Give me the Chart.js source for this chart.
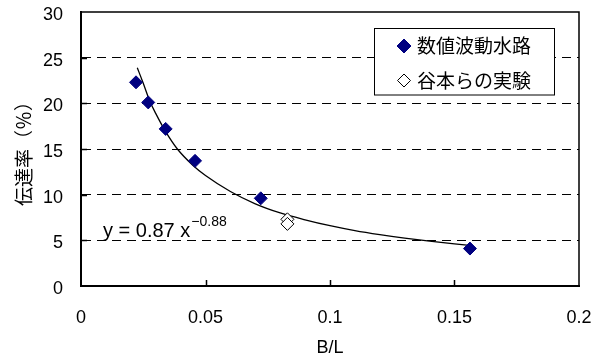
<!DOCTYPE html>
<html><head><meta charset="utf-8">
<script src="https://cdn.jsdelivr.net/npm/chart.js@4"></script>
<style>html,body{margin:0;padding:0;background:#fff}#wrap{width:607px;height:363px}canvas{display:block}</style>
</head><body>
<div id="wrap"><canvas id="c" width="607" height="363"></canvas></div>
<script>
// ---- data ----
const seriesNames = ['数値波動水路', '谷本らの実験'];
const numX = [0.0221, 0.0270, 0.0340, 0.0458, 0.0722, 0.1562];
const numY = [22.3, 20.1, 17.2, 13.7, 9.6, 4.1];
const expX = [0.0829, 0.0829];
const expY = [7.3, 6.8];
const trendX = [0.0226, 0.025, 0.0277, 0.03, 0.034, 0.0387, 0.045, 0.05, 0.06, 0.07, 0.08, 0.09, 0.1, 0.11, 0.12, 0.13, 0.14, 0.155];
const trendY = [23.9, 22.2, 20.2, 18.9, 16.9, 15.0, 13.2, 12.1, 10.35, 9.0, 8.0, 7.25, 6.6, 6.06, 5.62, 5.24, 4.91, 4.48];
const xTicks = [0, 0.05, 0.1, 0.15, 0.2];
const yTicks = [0, 5, 10, 15, 20, 25, 30];
const xTitle = 'B/L';
const yTitle = '伝達率（％）';
const eqMain = 'y = 0.87 x';
const eqExp = '−0.88';

const pts = (xs, ys) => xs.map((x, i) => ({x, y: ys[i]}));
const NAVY = '#000080';
const NUM_FONT = '"Liberation Sans", Arial, sans-serif';
const JP_FONT = '"Noto Sans CJK JP", sans-serif';

function diamond(ctx, x, y, r, fill, stroke) {
  ctx.beginPath();
  ctx.moveTo(x, y - r); ctx.lineTo(x + r, y); ctx.lineTo(x, y + r); ctx.lineTo(x - r, y); ctx.closePath();
  ctx.fillStyle = fill; ctx.fill();
  if (stroke) { ctx.lineWidth = 1; ctx.strokeStyle = stroke; ctx.stroke(); }
}

const decor = {
  id: 'decor',
  afterDraw(chart) {
    const {ctx, chartArea: a, scales: {x, y}} = chart;
    ctx.save();
    // top and right frame
    ctx.strokeStyle = '#000'; ctx.lineWidth = 1.5;
    ctx.beginPath();
    ctx.moveTo(a.left, a.top); ctx.lineTo(a.right, a.top); ctx.lineTo(a.right, a.bottom);
    ctx.stroke();
    // inner tick marks
    ctx.lineWidth = 1.5;
    ctx.beginPath();
    xTicks.slice(1, -1).forEach(v => { const px = Math.round(x.getPixelForValue(v)) + 0.5; ctx.moveTo(px, a.bottom); ctx.lineTo(px, a.bottom - 6); });
    yTicks.slice(1, -1).forEach(v => { const py = Math.round(y.getPixelForValue(v)) + 0.5; ctx.moveTo(a.left, py); ctx.lineTo(a.left + 6, py); });
    ctx.stroke();
    // equation
    ctx.fillStyle = '#000';
    ctx.textBaseline = 'alphabetic'; ctx.textAlign = 'left';
    ctx.font = '20px ' + NUM_FONT;
    const ex = 103, ey = 237;
    ctx.fillText(eqMain, ex, ey);
    const w = ctx.measureText(eqMain).width;
    ctx.font = '14px ' + NUM_FONT;
    ctx.fillText(eqExp, ex + w + 1, ey - 11);
    // legend
    const lx = 374.5, ly = 28.5, lw = 180, lh = 66.5;
    ctx.fillStyle = '#fff'; ctx.fillRect(lx, ly, lw, lh);
    ctx.strokeStyle = '#000'; ctx.lineWidth = 1; ctx.strokeRect(lx, ly, lw, lh);
    diamond(ctx, 404, 46, 7, NAVY, NAVY);
    diamond(ctx, 404, 80.5, 6.5, '#fff', '#000');
    ctx.fillStyle = '#000';
    ctx.font = '19px ' + JP_FONT;
    ctx.textBaseline = 'middle';
    ctx.fillText(seriesNames[0], 417, 46);
    ctx.fillText(seriesNames[1], 417, 80.5);
    ctx.restore();
  }
};

const noPad = s => { s.paddingTop = 0; s.paddingBottom = 0; s.paddingLeft = 0; s.paddingRight = 0; };

new Chart(document.getElementById('c'), {
  type: 'scatter',
  data: {
    datasets: [
      {label: seriesNames[0], data: pts(numX, numY), pointStyle: 'rectRot', pointRadius: 6.5,
       backgroundColor: NAVY, borderColor: NAVY, borderWidth: 1, showLine: false},
      {label: seriesNames[1], data: pts(expX, expY), pointStyle: 'rectRot', pointRadius: 6.5,
       backgroundColor: '#fff', borderColor: '#000', borderWidth: 1, showLine: false},
      {label: 'trend', data: pts(trendX, trendY), showLine: true, pointRadius: 0, borderColor: '#000',
       borderWidth: 1.3, cubicInterpolationMode: 'monotone', fill: false}
    ]
  },
  options: {
    responsive: false, devicePixelRatio: 1, animation: false,
    layout: {padding: {top: 12, right: 28, left: 0, bottom: 0}},
    plugins: {legend: {display: false}, tooltip: {enabled: false}},
    scales: {
      x: {
        type: 'linear', min: 0, max: 0.2,
        afterBuildTicks: s => { s.ticks = xTicks.map(v => ({value: v})); },
        afterFit: s => { s.height = 77; noPad(s); },
        grid: {display: false, drawTicks: false},
        border: {display: true, color: '#000', width: 2},
        ticks: {color: '#000', font: {family: NUM_FONT, size: 18}, padding: 21, maxRotation: 0,
                callback: v => String(v)},
        title: {display: true, text: xTitle, color: '#000', font: {family: NUM_FONT, size: 18}, padding: {top: 0, bottom: 4}}
      },
      y: {
        type: 'linear', min: 0, max: 30,
        afterBuildTicks: s => { s.ticks = yTicks.map(v => ({value: v})); },
        afterFit: s => { s.width = 81; noPad(s); },
        grid: {drawTicks: false, lineWidth: 1,
               color: c => (c.tick && (c.tick.value === 0 || c.tick.value === 30)) ? 'rgba(0,0,0,0)' : '#000'},
        border: {display: true, color: '#000', width: 2, dash: [9, 6]},
        ticks: {color: '#000', font: {family: NUM_FONT, size: 18}, padding: 18, labelOffset: 3, callback: v => String(v)},
        title: {display: true, text: yTitle, color: '#000', font: {family: JP_FONT, size: 19}, padding: {top: 12, bottom: 0}}
      }
    }
  },
  plugins: [decor]
});
</script>
</body></html>
